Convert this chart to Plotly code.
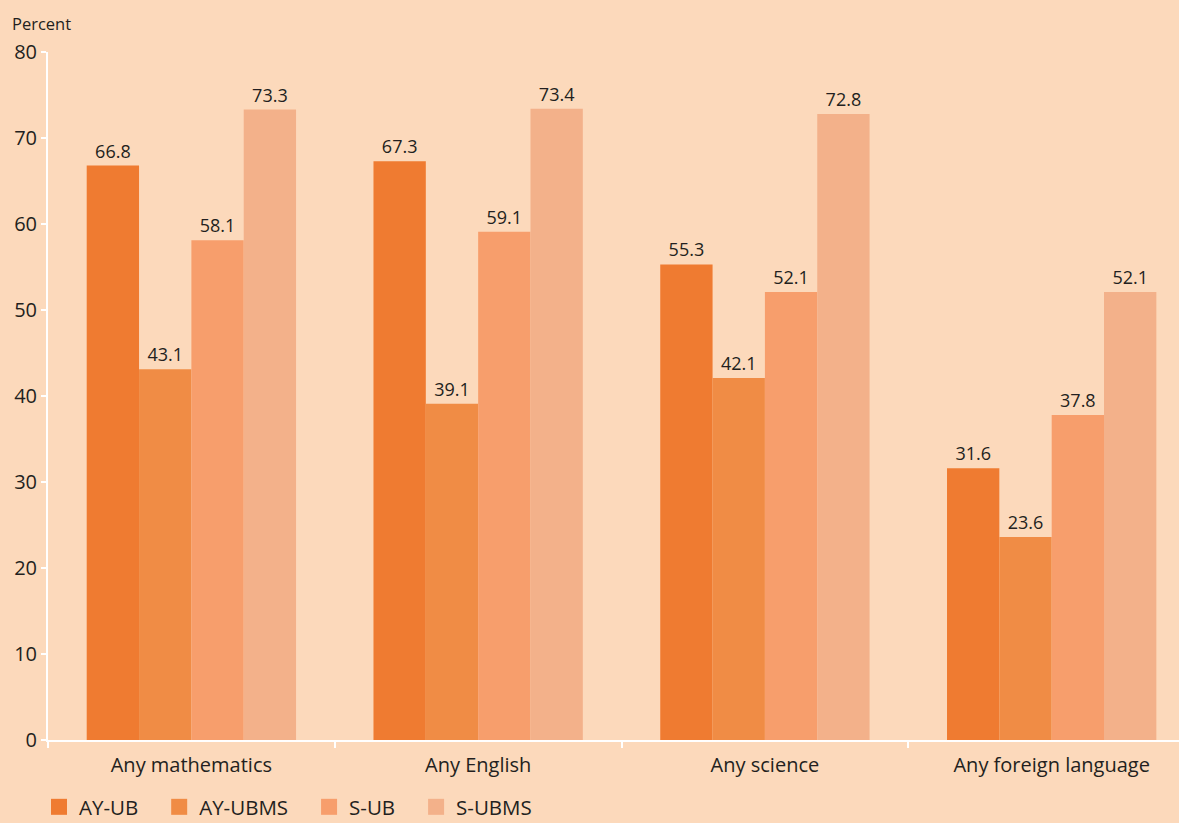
import plotly.graph_objects as go

# Share of students taking each subject, by program and study
categories = ["Any mathematics", "Any English", "Any science", "Any foreign language"]
series_names = ["AY-UB", "AY-UBMS", "S-UB", "S-UBMS"]
ay_ub = [66.8, 67.3, 55.3, 31.6]
ay_ubms = [43.1, 39.1, 42.1, 23.6]
s_ub = [58.1, 59.1, 52.1, 37.8]
s_ubms = [73.3, 73.4, 72.8, 52.1]
y_ticks = [0, 10, 20, 30, 40, 50, 60, 70, 80]

series_values = [ay_ub, ay_ubms, s_ub, s_ubms]
colors = ["#EF7B31", "#F08C45", "#F79E6C", "#F3B18A"]
bg = "#FCD9BB"
ink = "#231F20"
font_family = "Open Sans"
NBSP = "\u00a0"

fig = go.Figure()
for name, vals, col in zip(series_names, series_values, colors):
    fig.add_trace(go.Bar(
        x=categories,
        y=vals,
        name=name,
        legendgroup=name,
        showlegend=False,
        marker=dict(color=col, line=dict(width=0)),
        text=[f"{v:.1f}" for v in vals],
        textposition="outside",
        textfont=dict(family=font_family, size=18, color=ink),
        cliponaxis=False,
    ))

# Legend keys: large square swatches tied to each bar series
for name, col in zip(series_names, colors):
    fig.add_trace(go.Scatter(
        x=[None],
        y=[None],
        mode="markers",
        name=name + NBSP * 3,
        legendgroup=name,
        marker=dict(symbol="square", size=20, color=col, line=dict(width=0)),
        hoverinfo="skip",
    ))

fig.update_layout(
    width=1179,
    height=823,
    paper_bgcolor=bg,
    plot_bgcolor=bg,
    barmode="group",
    bargap=0.27,
    bargroupgap=0,
    margin=dict(l=48, r=0, t=52, b=83),
    font=dict(family=font_family, color=ink),
    showlegend=True,
    legend=dict(
        orientation="h",
        xref="container",
        yref="container",
        x=39 / 1179,
        xanchor="left",
        y=16 / 823,
        yanchor="middle",
        font=dict(family=font_family, size=20.5, color=ink),
        bgcolor="rgba(0,0,0,0)",
        traceorder="normal",
        itemsizing="trace",
    ),
    annotations=[dict(
        text="Percent",
        xref="paper", yref="paper",
        x=-38 / 1131, y=1 + 28 / 688,
        xanchor="left", yanchor="middle",
        showarrow=False,
        font=dict(family=font_family, size=16.5, color=ink),
    )],
)

fig.update_xaxes(
    range=[-0.5, 3.444],
    showgrid=False,
    showline=True,
    linecolor="white",
    linewidth=2,
    ticks="outside",
    tickson="boundaries",
    ticklen=6,
    tickwidth=2,
    tickcolor="white",
    ticklabelstandoff=6,
    tickfont=dict(family=font_family, size=20, color=ink),
    zeroline=False,
)

fig.update_yaxes(
    range=[0, 80],
    tickvals=y_ticks,
    showgrid=False,
    showline=True,
    linecolor="white",
    linewidth=2,
    ticks="outside",
    ticklen=5,
    tickwidth=2,
    tickcolor="white",
    tickfont=dict(family=font_family, size=20, color=ink),
    zeroline=False,
)

fig.write_html("out.html")
